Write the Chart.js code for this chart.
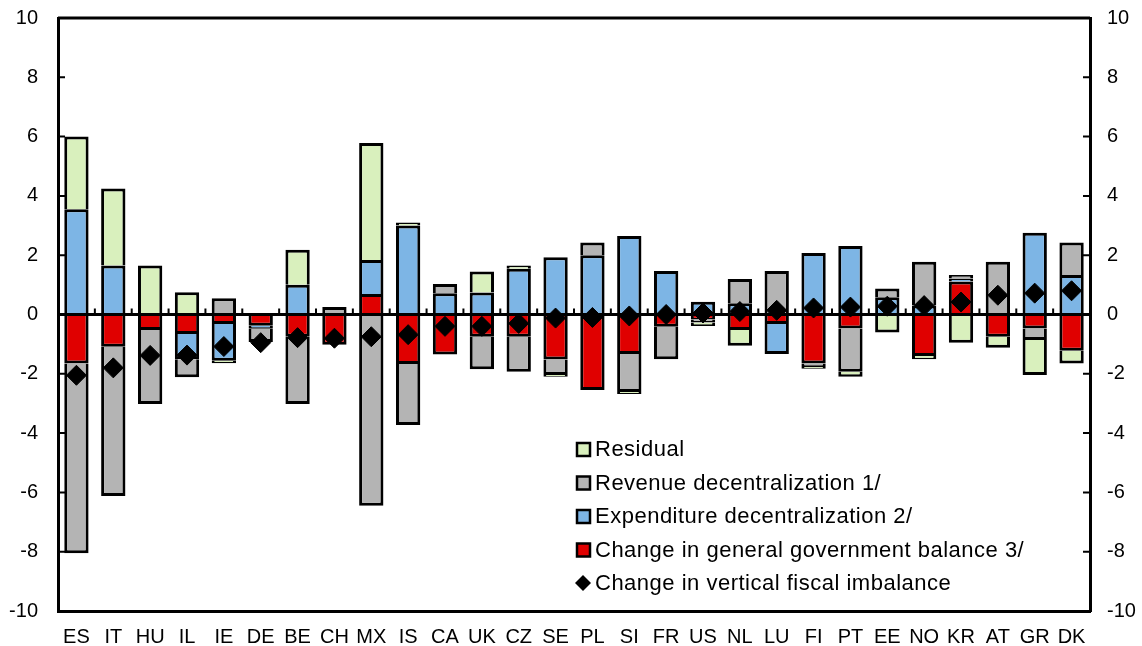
<!DOCTYPE html>
<html>
<head>
<meta charset="utf-8">
<script src="https://cdn.jsdelivr.net/npm/chart.js@4/dist/chart.umd.min.js"></script>
<style>
  html, body { margin: 0; padding: 0; background: #fff; }
  #wrap { width: 1142px; height: 646px; position: relative; }
</style>
</head>
<body>
<div id="wrap"><canvas id="chart"></canvas></div>
<script>
// categories and series (percentage points)
const countries = ["ES","IT","HU","IL","IE","DE","BE","CH","MX","IS","CA","UK","CZ","SE","PL","SI","FR","US","NL","LU","FI","PT","EE","NO","KR","AT","GR","DK"];
const govBalance   = [-1.65,-1.09,-0.52,-0.66,-0.32,-0.38,-0.75,-1.02, 0.69,-1.67,-1.35,-0.75,-0.75,-1.52,-2.55,-1.33,-0.41,-0.17,-0.52,-0.32,-1.65,-0.47,-0.05,-1.40, 1.11,-0.75,-0.47,-1.22];
const expDecentral = [ 3.55, 1.65, 0.00,-0.85,-1.24,-0.10, 1.00, 0.00, 1.15, 3.00, 0.72, 0.74, 1.54, 1.93, 2.00, 2.65, 1.47, 0.43, 0.38,-1.01, 2.07, 2.31, 0.58, 0.30, 0.10, 0.00, 2.76, 1.33];
const revDecentral = [-6.40,-5.03,-2.50,-0.61, 0.55,-0.45,-2.27, 0.25,-6.45,-2.06, 0.31,-1.10,-1.18,-0.52, 0.43,-1.28,-1.10,-0.10, 0.82, 1.47,-0.12,-1.46, 0.30, 1.48, 0.12, 1.78,-0.39, 1.10];
const residual     = [ 2.45, 2.60, 1.65, 0.75,-0.08, 0.00, 1.18, 0.00, 3.94, 0.10, 0.00, 0.71, 0.11,-0.06, 0.00,-0.07, 0.00,-0.12,-0.53, 0.00,-0.06,-0.17,-0.56,-0.11,-0.95,-0.37,-1.18,-0.43];
const vfiChange    = [-2.05,-1.80,-1.38,-1.37,-1.08,-0.95,-0.78,-0.80,-0.75,-0.68,-0.40,-0.40,-0.30,-0.12,-0.10,-0.05, 0.00, 0.05, 0.10, 0.14, 0.22, 0.25, 0.28, 0.30, 0.42, 0.65, 0.72, 0.80];
const yTicks = [-10, 10, 2]; // min, max, step

const FONT = "'Liberation Sans', Arial, sans-serif";
const GREEN = "#d9f0bd", GREY = "#b4b4b4", BLUE = "#7db5e5", RED = "#e00000";

// inward ticks on both value axes, small ticks on the zero line, frame top
const axisDecor = {
  id: "axisDecor",
  beforeDatasetsDraw(chart) {
    const { ctx, chartArea: a, scales } = chart;
    ctx.save();
    ctx.strokeStyle = "#000";
    ctx.lineWidth = 2;
    const y = scales.y;
    y.ticks.forEach(t => {
      const py = y.getPixelForValue(t.value);
      ctx.beginPath();
      ctx.moveTo(a.left, py); ctx.lineTo(a.left + 7, py);
      ctx.moveTo(a.right, py); ctx.lineTo(a.right - 7, py);
      ctx.stroke();
    });
    const zero = y.getPixelForValue(0);
    const x = scales.x;
    const step = x.getPixelForValue(1) - x.getPixelForValue(0);
    for (let i = 0; i <= countries.length; i++) {
      const px = i < countries.length ? x.getPixelForValue(i) - step / 2 : a.right;
      ctx.beginPath();
      ctx.moveTo(px, zero); ctx.lineTo(px, zero - 6);
      ctx.stroke();
    }
    ctx.lineWidth = 3;
    ctx.beginPath();
    ctx.moveTo(a.left, a.top); ctx.lineTo(a.right, a.top);
    ctx.stroke();
    ctx.restore();
  }
};

// legend drawn inside the plot, Excel style
const insideLegend = {
  id: "insideLegend",
  afterDraw(chart) {
    const { ctx } = chart;
    const order = [3, 2, 1, 0, 4];
    ctx.save();
    ctx.font = "22px " + FONT;
    ctx.letterSpacing = "0.5px";
    ctx.textBaseline = "middle";
    order.forEach((di, k) => {
      const ds = chart.data.datasets[di];
      const cy = 449 + k * 33.5;
      if (ds.type === "line") {
        ctx.beginPath();
        ctx.moveTo(583, cy - 8); ctx.lineTo(591, cy); ctx.lineTo(583, cy + 8); ctx.lineTo(575, cy);
        ctx.closePath();
        ctx.fillStyle = "#000";
        ctx.fill();
      } else {
        ctx.fillStyle = ds.backgroundColor;
        ctx.fillRect(577, cy - 6, 13, 13);
        ctx.lineWidth = 2.5;
        ctx.strokeStyle = "#000";
        ctx.strokeRect(577, cy - 6, 13, 13);
      }
      ctx.fillStyle = "#000";
      ctx.fillText(ds.label, 595, cy + 1);
    });
    ctx.restore();
  }
};

const barStyle = { borderColor: "#000", borderWidth: 3, barPercentage: 0.66, categoryPercentage: 1 };

// fixed axis box sizes so the plot area sits where the original one does
function fitValueAxis(width) {
  return s => {
    s.width = width;
    s.paddingTop = 18;
    s.paddingBottom = 0;
  };
}

new Chart(document.getElementById("chart"), {
  type: "bar",
  data: {
    labels: countries,
    datasets: [
      { label: "Change in general government balance 3/", data: govBalance, backgroundColor: RED, ...barStyle },
      { label: "Expenditure decentralization 2/", data: expDecentral, backgroundColor: BLUE, ...barStyle },
      { label: "Revenue decentralization 1/", data: revDecentral, backgroundColor: GREY, ...barStyle },
      { label: "Residual", data: residual, backgroundColor: GREEN, ...barStyle },
      {
        type: "line",
        label: "Change in vertical fiscal imbalance",
        data: vfiChange,
        showLine: false,
        pointStyle: "rectRot",
        pointRadius: 10,
        pointBackgroundColor: "#000",
        pointBorderColor: "#000",
        order: -1
      }
    ]
  },
  options: {
    responsive: true,
    maintainAspectRatio: false,
    animation: false,
    layout: { autoPadding: false, padding: 0 },
    plugins: { legend: { display: false }, tooltip: { enabled: false } },
    scales: {
      x: {
        stacked: true,
        grid: { display: false, drawTicks: false },
        border: { display: true, color: "#000", width: 3 },
        ticks: { color: "#000", font: { family: FONT, size: 20 }, padding: 14, maxRotation: 0, autoSkip: false },
        afterFit(s) { s.height = 35; s.paddingLeft = 0; s.paddingRight = 0; }
      },
      y: {
        position: "left",
        stacked: true,
        min: yTicks[0], max: yTicks[1],
        ticks: { stepSize: yTicks[2], color: "#000", font: { family: FONT, size: 20 }, padding: 20 },
        grid: {
          drawTicks: false,
          color: c => (c.tick && c.tick.value === 0 ? "#000" : "rgba(0,0,0,0)"),
          lineWidth: 3
        },
        border: { display: true, color: "#000", width: 3 },
        afterFit: fitValueAxis(58)
      },
      y2: {
        position: "right",
        min: yTicks[0], max: yTicks[1],
        ticks: { stepSize: yTicks[2], color: "#000", font: { family: FONT, size: 20 }, padding: 17 },
        grid: { display: false, drawTicks: false },
        border: { display: true, color: "#000", width: 3 },
        afterFit: fitValueAxis(52)
      }
    }
  },
  plugins: [axisDecor, insideLegend]
});
</script>
</body>
</html>
